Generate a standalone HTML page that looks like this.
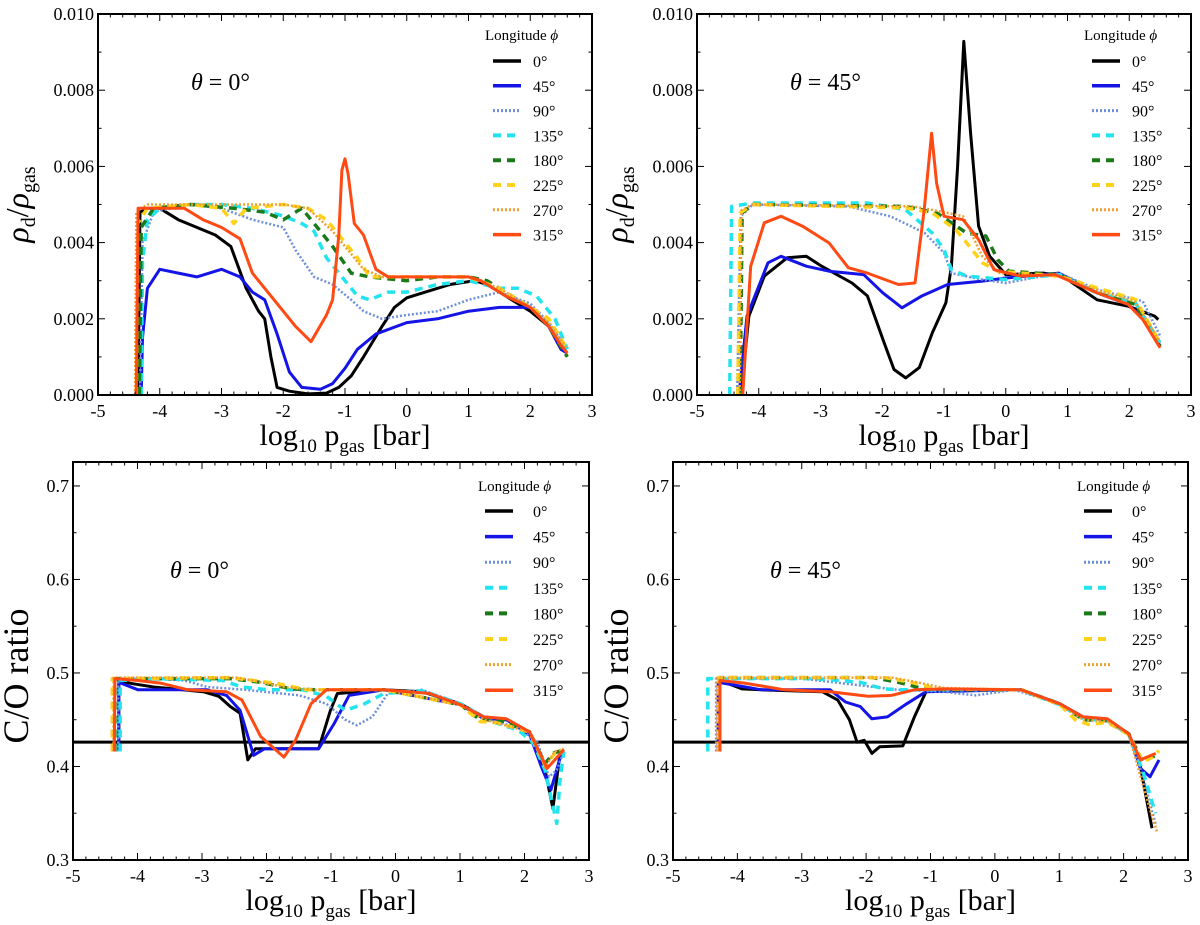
<!DOCTYPE html>
<html><head><meta charset="utf-8"><title>Dust-to-gas ratio and C/O ratio</title>
<style>
html,body{margin:0;padding:0;background:#fff;}
svg{display:block;font-family:"Liberation Serif",serif;}
</style></head>
<body>
<svg id="fig" width="1200" height="925" viewBox="0 0 1200 925" xmlns="http://www.w3.org/2000/svg"></svg>
<script>
// ---- series metadata ----
const seriesNames = ["0°","45°","90°","135°","180°","225°","270°","315°"];
const seriesColors = ["#000000","#1414e6","#6f8fdc","#22e4ee","#1a7a1a","#ffd21a","#f0a030","#ff4a14"];
const seriesDash = ["","","2,2","8,6","8,6","8,6","2,2",""];
const seriesWidth = [3,3,2.5,3.5,3.5,3.5,2.5,3];

// ---- top-left: rho_d/rho_gas (x1e-3), theta=0 ----
const tl_0 = [[-4.35,0],[-4.32,4.8],[-4.2,4.9],[-4.0,4.9],[-3.7,4.6],[-3.4,4.4],[-3.1,4.2],[-2.85,3.9],[-2.6,2.8],[-2.4,2.2],[-2.3,2.0],[-2.2,1.0],[-2.1,0.2],[-1.9,0.1],[-1.6,0.03],[-1.3,0.05],[-1.1,0.2],[-0.9,0.5],[-0.7,1.0],[-0.4,1.8],[-0.2,2.3],[0,2.55],[0.3,2.7],[0.7,2.9],[1.1,3.0],[1.3,2.9],[1.6,2.6],[2.0,2.2],[2.3,1.8],[2.5,1.2],[2.6,1.1]];
const tl_45 = [[-4.3,0],[-4.28,1.5],[-4.2,2.8],[-4.0,3.3],[-3.7,3.2],[-3.4,3.1],[-3.0,3.3],[-2.7,3.1],[-2.5,2.7],[-2.3,2.5],[-2.1,1.6],[-1.9,0.6],[-1.7,0.2],[-1.4,0.15],[-1.2,0.3],[-1.0,0.7],[-0.8,1.2],[-0.5,1.6],[0,1.9],[0.5,2.0],[1.0,2.2],[1.5,2.3],[2.0,2.3],[2.3,1.8],[2.5,1.2],[2.6,1.1]];
const tl_90 = [[-4.32,0],[-4.28,4.0],[-4.1,4.8],[-3.5,5.0],[-3.0,4.9],[-2.5,4.6],[-2.0,4.4],[-1.8,3.8],[-1.5,3.1],[-1.2,2.9],[-0.9,2.5],[-0.7,2.2],[-0.4,2.0],[0,2.1],[0.5,2.2],[1.0,2.5],[1.5,2.7],[2.0,2.4],[2.3,1.9],[2.6,1.2]];
const tl_135 = [[-4.3,0],[-4.28,3.5],[-4.2,4.6],[-4.0,4.9],[-3.5,5.0],[-3.0,5.0],[-2.5,4.9],[-2.0,4.7],[-1.7,4.5],[-1.5,4.3],[-1.3,3.6],[-1.0,3.0],[-0.8,2.6],[-0.6,2.5],[-0.3,2.7],[0,2.7],[0.5,2.9],[1.0,3.0],[1.5,2.8],[1.8,2.8],[2.1,2.6],[2.4,2.0],[2.6,1.2]];
const tl_180 = [[-4.33,0],[-4.3,4.4],[-4.1,4.9],[-3.5,5.0],[-2.8,4.9],[-2.3,4.8],[-2.0,4.6],[-1.7,4.9],[-1.5,4.5],[-1.2,3.9],[-0.9,3.2],[-0.6,3.1],[0,3.0],[0.5,3.1],[1.0,3.1],[1.3,3.0],[1.6,2.7],[2.0,2.3],[2.3,1.8],[2.6,1.0]];
const tl_225 = [[-4.38,0],[-4.36,4.5],[-4.2,4.9],[-3.5,5.0],[-3.0,4.9],[-2.8,4.5],[-2.6,4.9],[-2.0,5.0],[-1.6,4.9],[-1.3,4.6],[-1.0,4.0],[-0.8,3.6],[-0.6,3.1],[0,3.1],[0.5,3.1],[1.0,3.1],[1.5,2.8],[2.0,2.3],[2.3,2.0],[2.6,1.2]];
const tl_270 = [[-4.4,0],[-4.38,4.8],[-4.2,5.0],[-3.0,5.0],[-2.0,5.0],[-1.6,4.9],[-1.2,4.3],[-0.9,3.7],[-0.7,3.3],[-0.4,3.1],[0,3.1],[1.0,3.1],[1.5,2.8],[2.0,2.3],[2.3,1.9],[2.6,1.2]];
const tl_315 = [[-4.38,0],[-4.35,4.9],[-4.0,4.9],[-3.6,4.9],[-3.3,4.6],[-3.0,4.4],[-2.7,4.1],[-2.5,3.2],[-2.2,2.6],[-1.8,1.8],[-1.55,1.4],[-1.3,2.1],[-1.2,2.5],[-1.1,4.2],[-1.05,5.9],[-1.0,6.2],[-0.95,5.8],[-0.85,4.5],[-0.7,4.2],[-0.5,3.3],[-0.3,3.1],[0,3.1],[0.5,3.1],[1.0,3.1],[1.2,3.0],[1.6,2.6],[2.0,2.3],[2.3,1.8],[2.5,1.3],[2.6,1.1]];

// ---- top-right: rho_d/rho_gas (x1e-3), theta=45 ----
const tr_0 = [[-4.29,0],[-4.16,2.07],[-3.91,3.12],[-3.54,3.6],[-3.23,3.64],[-2.98,3.38],[-2.49,2.94],[-2.24,2.6],[-1.99,1.46],[-1.81,0.67],[-1.62,0.45],[-1.4,0.72],[-1.19,1.63],[-0.97,2.42],[-0.88,3.38],[-0.78,6.0],[-0.68,9.28],[-0.57,6.87],[-0.44,4.43],[-0.26,3.64],[0,3.16],[0.61,3.2],[0.92,3.12],[1.48,2.5],[1.98,2.33],[2.41,2.07],[2.47,1.98]];
const tr_45 = [[-4.32,0],[-4.19,2.07],[-3.85,3.47],[-3.64,3.64],[-3.23,3.38],[-2.86,3.25],[-2.3,3.16],[-1.99,2.68],[-1.68,2.29],[-1.37,2.59],[-0.94,2.9],[-0.38,2.99],[0,3.07],[0.86,3.2],[1.48,2.68],[1.98,2.38],[2.3,1.9],[2.5,1.28]];
const tr_90 = [[-4.35,0],[-4.29,4.69],[-4.1,5.0],[-2.55,4.95],[-1.87,4.69],[-1.31,4.25],[-1.0,3.73],[-0.88,3.2],[-0.38,3.03],[0,2.94],[0.86,3.2],[1.48,2.77],[2.22,2.46],[2.5,1.55]];
const tr_135 = [[-4.47,0],[-4.44,4.95],[-4.1,5.04],[-2.24,5.04],[-1.62,4.86],[-1.19,4.25],[-1.0,3.82],[-0.88,3.29],[-0.63,3.12],[0,3.03],[0.86,3.16],[1.48,2.68],[2.1,2.42],[2.5,1.37]];
const tr_180 = [[-4.3,0],[-4.27,4.78],[-4.1,5.0],[-1.62,4.95],[-1.12,4.78],[-0.63,4.25],[-0.32,4.17],[-0.13,3.55],[0.05,3.25],[0.86,3.16],[1.48,2.68],[2.1,2.38],[2.5,1.28]];
const tr_225 = [[-4.34,0],[-4.3,4.78],[-4.1,5.0],[-1.62,4.91],[-1.19,4.78],[-0.81,4.34],[-0.63,3.99],[-0.38,3.47],[-0.13,3.25],[0.86,3.12],[1.48,2.81],[2.1,2.51],[2.5,1.37]];
const tr_270 = [[-4.31,0],[-4.28,4.85],[-4.1,5.0],[-1.5,4.95],[-1.0,4.8],[-0.69,4.69],[-0.38,3.64],[-0.1,3.2],[0.86,3.12],[1.48,2.75],[2.1,2.45],[2.5,1.4]];
const tr_315 = [[-4.26,0],[-4.13,3.38],[-3.91,4.52],[-3.64,4.69],[-3.29,4.43],[-2.86,3.99],[-2.55,3.34],[-2.24,3.2],[-1.74,2.9],[-1.47,2.94],[-1.32,4.86],[-1.2,6.87],[-1.12,5.56],[-1.0,4.69],[-0.69,4.6],[-0.44,4.08],[-0.19,3.29],[0.24,3.12],[0.8,3.16],[1.48,2.68],[1.98,2.38],[2.22,1.98],[2.5,1.24]];

// ---- bottom-left: C/O, theta=0 ----
const bl_0 = [[-4.29,0.416],[-4.29,0.492],[-4.11,0.489],[-3.75,0.485],[-2.98,0.48],[-2.74,0.475],[-2.56,0.464],[-2.41,0.457],[-2.29,0.407],[-2.17,0.419],[-1.97,0.419],[-1.19,0.419],[-1.01,0.46],[-0.9,0.478],[-0.18,0.482],[0.41,0.48],[1.01,0.467],[1.37,0.453],[1.72,0.45],[2.08,0.435],[2.32,0.396],[2.44,0.355],[2.55,0.414],[2.61,0.418]];
const bl_45 = [[-4.29,0.416],[-4.29,0.49],[-3.99,0.482],[-3.75,0.482],[-2.92,0.482],[-2.62,0.476],[-2.41,0.46],[-2.2,0.412],[-2.03,0.419],[-1.19,0.419],[-0.95,0.446],[-0.72,0.476],[-0.18,0.482],[1.01,0.466],[1.37,0.451],[1.72,0.45],[2.08,0.434],[2.26,0.4],[2.41,0.375],[2.58,0.416]];
const bl_90 = [[-4.3,0.416],[-4.3,0.494],[-3.75,0.494],[-3.27,0.492],[-2.92,0.485],[-2.32,0.482],[-1.49,0.476],[-1.07,0.467],[-0.78,0.45],[-0.6,0.444],[-0.36,0.453],[-0.12,0.478],[0.41,0.482],[1.01,0.467],[1.49,0.449],[1.9,0.442],[2.2,0.426],[2.38,0.389],[2.5,0.396],[2.61,0.416]];
const bl_135 = [[-4.27,0.416],[-4.27,0.492],[-3.75,0.494],[-2.68,0.492],[-2.38,0.485],[-1.97,0.482],[-1.43,0.482],[-1.07,0.475],[-0.78,0.46],[-0.48,0.467],[-0.18,0.478],[0.41,0.481],[1.01,0.467],[1.49,0.448],[1.9,0.439],[2.14,0.425],[2.32,0.396],[2.5,0.339],[2.55,0.385],[2.61,0.416]];
const bl_180 = [[-4.35,0.416],[-4.35,0.494],[-2.56,0.494],[-2.09,0.49],[-1.61,0.483],[-1.25,0.482],[-0.18,0.482],[1.01,0.466],[1.31,0.45],[1.6,0.45],[2.08,0.437],[2.32,0.403],[2.44,0.414],[2.61,0.418]];
const bl_225 = [[-4.39,0.416],[-4.39,0.494],[-2.56,0.495],[-1.85,0.489],[-1.37,0.482],[-0.18,0.482],[1.01,0.466],[1.31,0.448],[1.55,0.447],[2.08,0.437],[2.32,0.401],[2.47,0.414],[2.61,0.418]];
const bl_270 = [[-4.37,0.416],[-4.37,0.495],[-2.44,0.495],[-1.73,0.485],[-1.25,0.482],[-0.18,0.482],[1.01,0.466],[1.37,0.45],[2.08,0.437],[2.32,0.399],[2.47,0.416],[2.61,0.419]];
const bl_315 = [[-4.36,0.416],[-4.35,0.494],[-3.99,0.492],[-3.63,0.489],[-3.22,0.482],[-2.62,0.48],[-2.38,0.471],[-2.09,0.432],[-1.73,0.41],[-1.55,0.428],[-1.31,0.467],[-1.07,0.482],[-0.18,0.482],[0.53,0.478],[1.01,0.466],[1.37,0.453],[1.72,0.451],[2.08,0.437],[2.35,0.398],[2.47,0.407],[2.61,0.418]];

// ---- bottom-right: C/O, theta=45 ----
const br_0 = [[-4.27,0.416],[-4.27,0.492],[-3.93,0.483],[-3.63,0.482],[-2.68,0.48],[-2.44,0.471],[-2.26,0.45],[-2.14,0.426],[-2.03,0.428],[-1.91,0.414],[-1.79,0.421],[-1.43,0.422],[-1.25,0.453],[-1.07,0.48],[-0.8,0.482],[0.41,0.482],[1.01,0.467],[1.37,0.453],[1.75,0.45],[2.08,0.435],[2.26,0.4],[2.44,0.334]];
const br_45 = [[-4.3,0.416],[-4.3,0.49],[-3.87,0.485],[-3.63,0.482],[-2.56,0.482],[-2.32,0.469],[-2.09,0.464],[-1.91,0.451],[-1.67,0.453],[-1.37,0.467],[-1.07,0.48],[0.41,0.482],[1.01,0.467],[1.37,0.453],[1.75,0.45],[2.08,0.435],[2.26,0.398],[2.41,0.389],[2.55,0.407]];
const br_90 = [[-4.33,0.416],[-4.33,0.494],[-3.0,0.494],[-2.5,0.49],[-2.0,0.486],[-1.5,0.482],[-0.8,0.48],[-0.3,0.476],[0.3,0.482],[1.01,0.467],[1.37,0.452],[1.75,0.449],[2.08,0.433],[2.3,0.39],[2.45,0.35],[2.5,0.338]];
const br_135 = [[-4.46,0.416],[-4.46,0.494],[-2.8,0.494],[-2.09,0.49],[-1.73,0.483],[-1.43,0.482],[0.41,0.482],[0.65,0.475],[1.01,0.466],[1.37,0.451],[1.75,0.449],[2.08,0.434],[2.3,0.395],[2.45,0.36],[2.5,0.35]];
const br_180 = [[-4.28,0.416],[-4.28,0.495],[-1.9,0.495],[-1.5,0.49],[-1.1,0.483],[-0.5,0.482],[0.41,0.482],[1.01,0.467],[1.37,0.45],[1.75,0.449],[2.08,0.435],[2.3,0.405],[2.45,0.41],[2.55,0.415]];
const br_225 = [[-4.29,0.416],[-4.29,0.495],[-1.7,0.495],[-1.3,0.49],[-0.9,0.483],[0.41,0.482],[1.01,0.466],[1.25,0.45],[1.45,0.445],[1.75,0.447],[2.08,0.434],[2.3,0.405],[2.45,0.41],[2.55,0.417]];
const br_270 = [[-4.31,0.416],[-4.31,0.495],[-1.6,0.495],[-1.2,0.49],[-0.8,0.484],[0.41,0.482],[1.01,0.466],[1.37,0.45],[1.75,0.448],[2.08,0.434],[2.3,0.38],[2.45,0.345],[2.52,0.33]];
const br_315 = [[-4.27,0.416],[-4.27,0.492],[-3.87,0.489],[-3.27,0.482],[-2.56,0.48],[-1.97,0.475],[-1.61,0.476],[-1.25,0.482],[-0.77,0.483],[0.41,0.482],[1.01,0.467],[1.37,0.453],[1.75,0.451],[2.08,0.435],[2.26,0.407],[2.5,0.414]];

const xTicks = [-5,-4,-3,-2,-1,0,1,2,3];
const topYTicks = [0,2,4,6,8,10];
const topYTickLabels = ["0.000","0.002","0.004","0.006","0.008","0.010"];
const botYTicks = [0.3,0.4,0.5,0.6,0.7];
const botYTickLabels = ["0.3","0.4","0.5","0.6","0.7"];
const solarCO = 0.426;

const NS = "http://www.w3.org/2000/svg";
const svg = document.getElementById("fig");
function mk(tag, attrs, parent) {
  const e = document.createElementNS(NS, tag);
  for (const k in attrs) e.setAttribute(k, attrs[k]);
  (parent || svg).appendChild(e);
  return e;
}

const panels = [
  {id:"top-left", box:[98,14,592,395], ymin:0, ymax:10, yt:topYTicks, ytl:topYTickLabels, ymin2:1, series:[tl_0,tl_45,tl_90,tl_135,tl_180,tl_225,tl_270,tl_315], theta:"0°", thetaPos:[191,90], top:true, legend:[485,40,493,521,533,61,24.8]},
  {id:"top-right", box:[697,14,1191,395], ymin:0, ymax:10, yt:topYTicks, ytl:topYTickLabels, ymin2:1, series:[tr_0,tr_45,tr_90,tr_135,tr_180,tr_225,tr_270,tr_315], theta:"45°", thetaPos:[790,90], top:true, legend:[1084,40,1092,1120,1132,61,24.8]},
  {id:"bottom-left", box:[73,462,589,860], ymin:0.3, ymax:0.7256, yt:botYTicks, ytl:botYTickLabels, ymin2:0.05, series:[bl_0,bl_45,bl_90,bl_135,bl_180,bl_225,bl_270,bl_315], theta:"0°", thetaPos:[170,578], top:false, legend:[478,491,485,513,533,511,25.6]},
  {id:"bottom-right", box:[673,462,1188,860], ymin:0.3, ymax:0.7256, yt:botYTicks, ytl:botYTickLabels, ymin2:0.05, series:[br_0,br_45,br_90,br_135,br_180,br_225,br_270,br_315], theta:"45°", thetaPos:[770,578], top:false, legend:[1077,491,1084,1112,1132,511,25.6]}
];

panels.forEach(p => {
  const [x0,y0,x1,y1] = p.box;
  const g = mk("g", {});
  
  
  const xs = v => x0 + (v + 5) / 8 * (x1 - x0);
  const ys = v => y1 - (v - p.ymin) / (p.ymax - p.ymin) * (y1 - y0);
  const clipId = "clip-" + p.id;
  const cp = mk("clipPath", {id: clipId}, g);
  mk("rect", {x:x0, y:y0, width:x1-x0, height:y1-y0}, cp);

  // solar C/O line for bottom panels
  if (!p.top) {
    const hl = mk("line", {x1:x0, x2:x1, y1:ys(solarCO), y2:ys(solarCO), stroke:"#000", "stroke-width":3}, g);
    
    
  }
  // series
  const sg = mk("g", {"clip-path":"url(#" + clipId + ")"}, g);
  p.series.forEach((data, i) => {
    const pts = data.map(d => xs(d[0]).toFixed(1) + "," + ys(d[1]).toFixed(1)).join(" ");
    const a = {points:pts, fill:"none", stroke:seriesColors[i], "stroke-width":seriesWidth[i], "stroke-linejoin":"round"};
    if (seriesDash[i]) a["stroke-dasharray"] = seriesDash[i];
    const pl = mk("polyline", a, sg);
    
    
  });

  // frame
  const fr = mk("rect", {x:x0, y:y0, width:x1-x0, height:y1-y0, fill:"none", stroke:"#000", "stroke-width":2}, g);
  
  

  // x ticks
  for (let v = -5; v <= 3.001; v += 0.2) {
    const major = Math.abs(v - Math.round(v)) < 1e-6;
    const L = major ? 7 : 3.5;
    mk("line", {x1:xs(v), x2:xs(v), y1:y1, y2:y1-L, stroke:"#000", "stroke-width":1}, g);
    mk("line", {x1:xs(v), x2:xs(v), y1:y0, y2:y0+L, stroke:"#000", "stroke-width":1}, g);
  }
  xTicks.forEach(v => {
    const t = mk("text", {x:xs(v), y:y1+22, "text-anchor":"middle", "font-size":18}, g);
    t.textContent = (v < 0 ? "-" : "") + Math.abs(v);
    
    
  });
  // y ticks
  const step = p.ymin2;
  for (let v = p.yt[0]; v <= p.ymax + 1e-9; v += step) {
    const major = p.yt.some(t => Math.abs(t - v) < 1e-6);
    const L = major ? 7 : 3.5;
    mk("line", {x1:x0, x2:x0+L, y1:ys(v), y2:ys(v), stroke:"#000", "stroke-width":1}, g);
    mk("line", {x1:x1, x2:x1-L, y1:ys(v), y2:ys(v), stroke:"#000", "stroke-width":1}, g);
  }
  p.yt.forEach((v, i) => {
    const t = mk("text", {x:x0-4, y:ys(v)+6, "text-anchor":"end", "font-size":18}, g);
    t.textContent = p.ytl[i];
    
    
  });

  // axis titles
  const cx = (x0 + x1) / 2;
  const xt = mk("text", {x:cx, y:y1+50, "text-anchor":"middle", "font-size":30}, g);
  
  
  xt.innerHTML = 'log<tspan font-size="19" dy="7">10</tspan><tspan dy="-7"> p</tspan><tspan font-size="19" dy="7">gas</tspan><tspan dy="-7"> [bar]</tspan>';

  const cy = (y0 + y1) / 2;
  if (p.top) {
    const ax = x0 - 70;
    const yt = mk("text", {x:ax, y:cy, "text-anchor":"middle", "font-size":32, transform:"rotate(-90 " + ax + " " + cy + ")", "font-style":"italic"}, g);
    
    
    yt.innerHTML = 'ρ<tspan font-size="20" dy="7" font-style="normal">d</tspan><tspan dy="-7" font-style="normal">/</tspan>ρ<tspan font-size="20" dy="7" font-style="normal">gas</tspan>';
  } else {
    const ax = x0 - 45;
    const yt = mk("text", {x:ax, y:cy+15, "text-anchor":"middle", "font-size":36, transform:"rotate(-90 " + ax + " " + (cy+15) + ")"}, g);
    yt.textContent = "C/O ratio";
    
    
  }

  // theta annotation
  const th = mk("text", {x:p.thetaPos[0], y:p.thetaPos[1], "font-size":24}, g);
  th.innerHTML = '<tspan font-style="italic">θ</tspan> = ' + p.theta;
  
  

  // legend
  const [tx, ty, lx0, lx1, labx, ey, dy] = p.legend;
  const lg = mk("g", {}, g);
  
  
  const lt = mk("text", {x:tx, y:ty, "font-size":15}, lg);
  lt.innerHTML = 'Longitude <tspan font-style="italic">ϕ</tspan>';
  
  
  seriesNames.forEach((n, i) => {
    const y = ey + i * dy;
    const a = {x1:lx0, x2:lx1, y1:y, y2:y, stroke:seriesColors[i], "stroke-width":seriesWidth[i] + 0.5};
    if (seriesDash[i]) a["stroke-dasharray"] = seriesDash[i];
    const ln = mk("line", a, lg);
    
    
    const tt = mk("text", {x:labx, y:y+6, "font-size":16}, lg);
    tt.textContent = n;
    
    
  });
});
</script>
</body></html>
